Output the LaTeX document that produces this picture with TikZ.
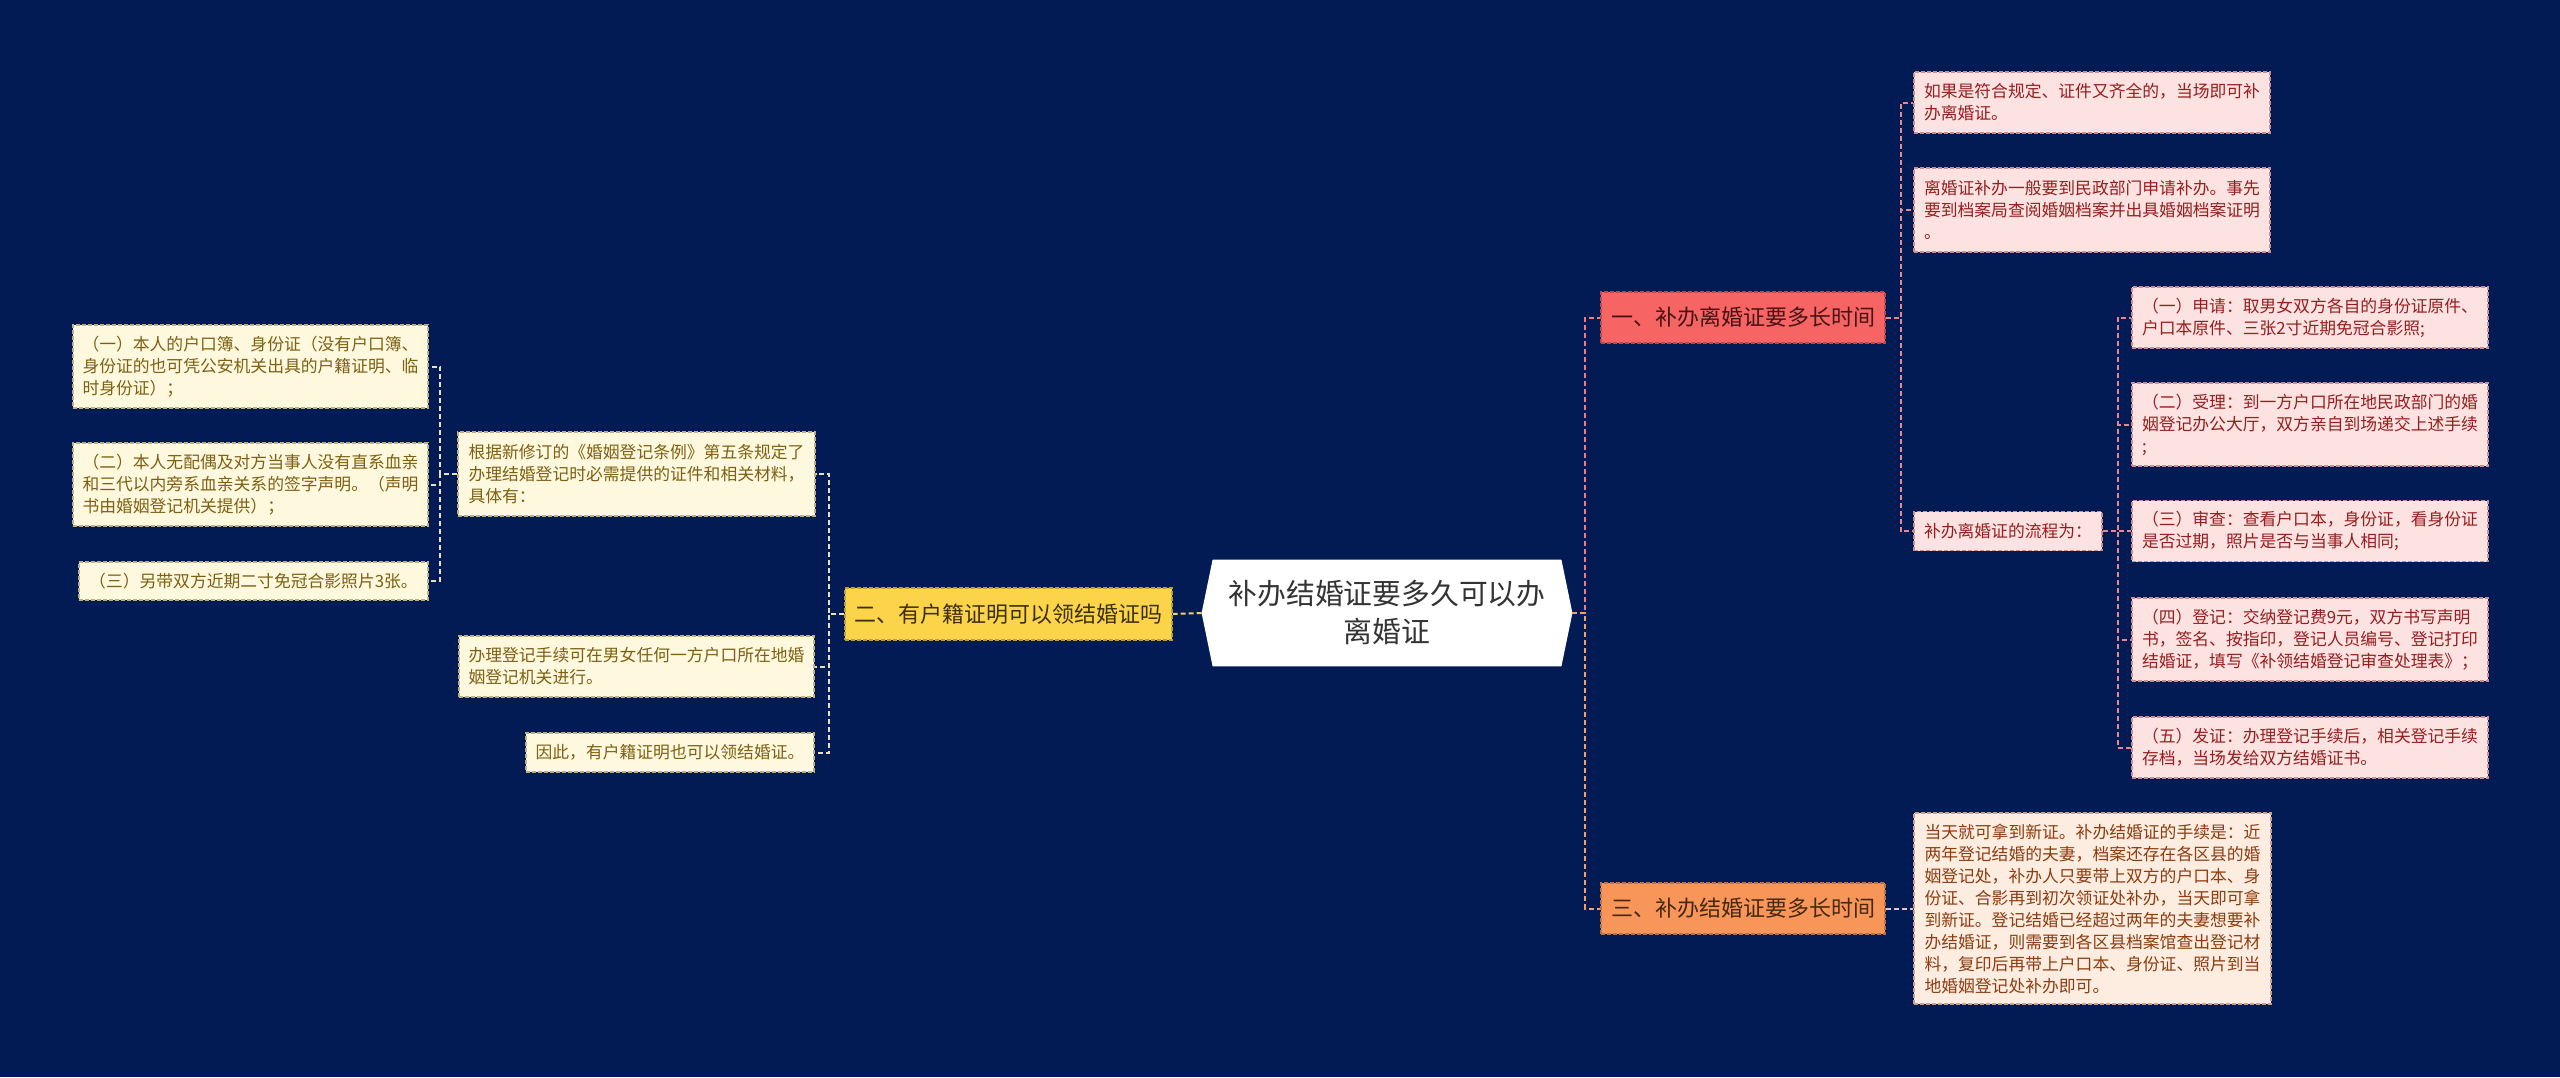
\documentclass[tikz,border=0pt]{standalone}
\usepackage{fontspec}
\newfontfamily\cjk{Noto Sans CJK SC}
\usetikzlibrary{calc}
\pgfdeclarelayer{bg}
\pgfsetlayers{bg,main}
\definecolor{bgc}{RGB}{2,27,84}
\definecolor{ctrtext}{RGB}{51,51,51}
\definecolor{bone}{RGB}{247,100,100}
\definecolor{bonetext}{RGB}{70,20,20}
\definecolor{bthree}{RGB}{248,150,90}
\definecolor{bthreetext}{RGB}{70,40,15}
\definecolor{btwo}{RGB}{251,212,74}
\definecolor{btwotext}{RGB}{60,48,10}
\definecolor{pinkfill}{RGB}{253,226,226}
\definecolor{pinkline}{RGB}{205,140,145}
\definecolor{pinktext}{RGB}{150,30,30}
\definecolor{peachfill}{RGB}{253,237,225}
\definecolor{peachline}{RGB}{200,160,140}
\definecolor{peachtext}{RGB}{140,60,15}
\definecolor{creamfill}{RGB}{254,248,222}
\definecolor{creamline}{RGB}{190,175,130}
\definecolor{creamtext}{RGB}{125,96,18}
\definecolor{cpink}{RGB}{240,125,130}
\definecolor{corange}{RGB}{248,160,100}
\definecolor{cyellow}{RGB}{245,210,95}
\definecolor{cpinkleaf}{RGB}{232,135,140}
\definecolor{cpeachleaf}{RGB}{225,200,185}
\definecolor{ccreamleaf}{RGB}{235,225,185}
\begin{document}
\begin{tikzpicture}[x=0.5pt,y=-0.5pt,
  conn/.style={line width=1pt, dash pattern=on 2.5pt off 1.5pt},
  box/.style={rectangle, line width=0.8pt, dash pattern=on 2pt off 1pt, inner sep=0pt, align=left, font=\cjk\fontsize{8.4}{11}\selectfont},
  sz/.style 2 args={minimum width=#1pt, minimum height=#2pt},
  ctr/.style={rectangle, inner sep=0pt, align=center, text=ctrtext, font=\cjk\fontsize{14.4}{19}\selectfont},
  branch/.style={rectangle, line width=0.8pt, dash pattern=on 2pt off 1pt, inner sep=0pt, align=center, font=\cjk\fontsize{11}{13}\selectfont},
  bonebox/.style={branch, fill=bone, draw=bone!75!black, text=bonetext},
  bthreebox/.style={branch, fill=bthree, draw=bthree!75!black, text=bthreetext},
  btwobox/.style={branch, fill=btwo, draw=btwo!75!black, text=btwotext},
  pinkleaf/.style={box, fill=pinkfill, draw=pinkline, text=pinktext},
  peachleaf/.style={box, fill=peachfill, draw=peachline, text=peachtext},
  creamleaf/.style={box, fill=creamfill, draw=creamline, text=creamtext}
]
\begin{pgfonlayer}{bg}
\fill[bgc] (0,0) rectangle (2560,1077);
\end{pgfonlayer}
\useasboundingbox (0,0) rectangle (2560,1077);

% centre
\node[ctr, sz={185}{53}] (c) at (1387,613) {补办结婚证要多久可以办\\离婚证};
\begin{pgfonlayer}{bg}
\fill[white] (c.west) -- ($(c.north west)+(11,0)$) -- ($(c.north east)+(-11,0)$) -- (c.east)
  -- ($(c.south east)+(-11,0)$) -- ($(c.south west)+(11,0)$) -- cycle;
\end{pgfonlayer}

% branches
\node[bonebox, sz={142}{25.5}] (b1) at (1743,317.5) {一、补办离婚证要多长时间};
\node[bthreebox, sz={142}{25.5}] (b3) at (1743,908.5) {三、补办结婚证要多长时间};
\node[btwobox, sz={163.5}{26}] (b2) at (1008.5,614) {二、有户籍证明可以领结婚证吗};

% branch 1 leaves
\node[pinkleaf, sz={178}{30.5}] (l1a) at (2092,102.5) {如果是符合规定、证件又齐全的，当场即可补\\办离婚证。};
\node[pinkleaf, sz={178}{42}] (l1b) at (2092,210) {离婚证补办一般要到民政部门申请补办。事先\\要到档案局查阅婚姻档案并出具婚姻档案证明\\。};
\node[pinkleaf, sz={94}{19.5}] (l1c) at (2008,531) {补办离婚证的流程为：};

\node[pinkleaf, sz={178}{30.5}] (p1) at (2310,317.5) {（一）申请：取男女双方各自的身份证原件、\\户口本原件、三张2寸近期免冠合影照;};
\node[pinkleaf, sz={178}{41.5}] (p2) at (2310,424.5) {（二）受理：到一方户口所在地民政部门的婚\\姻登记办公大厅，双方亲自到场递交上述手续\\;};
\node[pinkleaf, sz={178}{30.5}] (p3) at (2310,531) {（三）审查：查看户口本，身份证，看身份证\\是否过期，照片是否与当事人相同;};
\node[pinkleaf, sz={178}{41.5}] (p4) at (2310,639.5) {（四）登记：交纳登记费9元，双方书写声明\\书，签名、按指印，登记人员编号、登记打印\\结婚证，填写《补领结婚登记审查处理表》；};
\node[pinkleaf, sz={178}{30.5}] (p5) at (2310,747.5) {（五）发证：办理登记手续后，相关登记手续\\存档，当场发给双方结婚证书。};

% branch 3 leaf
\node[peachleaf, sz={178.5}{95.5}] (l3) at (2092.5,908.5) {当天就可拿到新证。补办结婚证的手续是：近\\两年登记结婚的夫妻，档案还存在各区县的婚\\姻登记处，补办人只要带上双方的户口本、身\\份证、合影再到初次领证处补办，当天即可拿\\到新证。登记结婚已经超过两年的夫妻想要补\\办结婚证，则需要到各区县档案馆查出登记材\\料，复印后再带上户口本、身份证、照片到当\\地婚姻登记处补办即可。};

% branch 2 leaves
\node[creamleaf, sz={178.5}{42}] (l2a) at (636.5,474) {根据新修订的《婚姻登记条例》第五条规定了\\办理结婚登记时必需提供的证件和相关材料，\\具体有：};
\node[creamleaf, sz={177.5}{30.5}] (l2b) at (636.5,666.5) {办理登记手续可在男女任何一方户口所在地婚\\姻登记机关进行。};
\node[creamleaf, sz={144}{19.5}] (l2c) at (670,752.5) {因此，有户籍证明也可以领结婚证。};

\node[creamleaf, sz={177.5}{41.5}] (g1) at (250.5,366.5) {（一）本人的户口簿、身份证（没有户口簿、\\身份证的也可凭公安机关出具的户籍证明、临\\时身份证）；};
\node[creamleaf, sz={177.5}{41.5}] (g2) at (250.5,484.5) {（二）本人无配偶及对方当事人没有直系血亲\\和三代以内旁系血亲关系的签字声明。（声明\\书由婚姻登记机关提供）；};
\node[creamleaf, sz={174.5}{19}] (g3) at (253.5,581) {（三）另带双方近期二寸免冠合影照片3张。};

% connectors
\draw[conn, cpink] (c.east) -- ++(13,0) |- (b1.west);
\draw[conn, corange] (c.east) -- ++(13,0) |- (b3.west);
\draw[conn, cyellow] (c.west) -- (b2.east);

\foreach \t in {l1a,l1b,l1c}
  \draw[conn, cpinkleaf] (b1.east) -- ++(15,0) |- (\t.west);
\foreach \t in {p1,p2,p3,p4,p5}
  \draw[conn, cpinkleaf] (l1c.east) -- ++(15,0) |- (\t.west);
\draw[conn, cpeachleaf] (b3.east) -- (l3.west);

\foreach \t in {l2a,l2b,l2c}
  \draw[conn, ccreamleaf] (b2.west) -- ++(-15,0) |- (\t.east);
\foreach \t in {g1,g2,g3}
  \draw[conn, ccreamleaf] (l2a.west) -- ++(-17,0) |- (\t.east);
\end{tikzpicture}
\end{document}
